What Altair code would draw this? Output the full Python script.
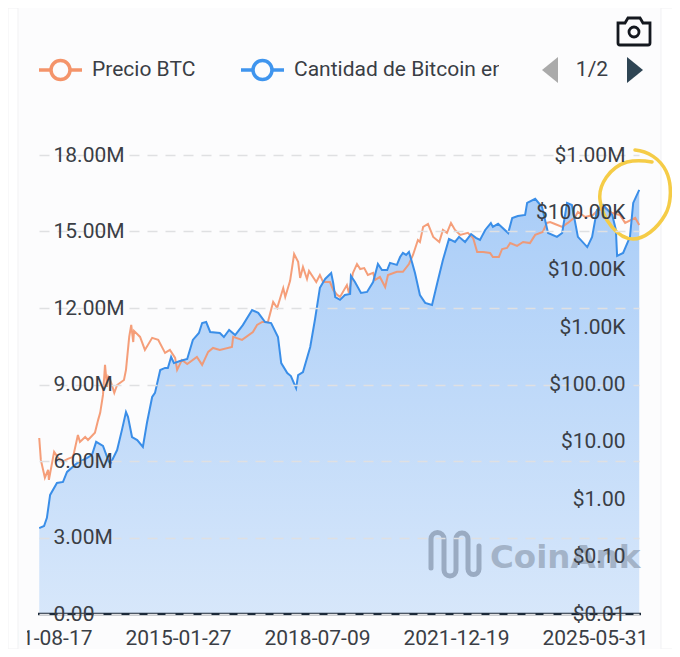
import altair as alt
import pandas as pd

# ---- data ----
price_years = [2011.63,2011.67,2011.77,2011.85,2011.87,2012.00,2012.10,2012.20,2012.34,2012.47,2012.59,2012.64,2012.77,2012.84,2013.01,2013.09,2013.14,2013.21,2013.26,2013.31,2013.34,2013.39,2013.49,2013.56,2013.73,2013.78,2013.86,2013.91,2013.96,2013.98,2014.13,2014.25,2014.43,2014.58,2014.75,2014.87,2015.00,2015.05,2015.17,2015.30,2015.54,2015.67,2015.82,2015.94,2016.11,2016.41,2016.44,2016.66,2016.93,2017.03,2017.16,2017.30,2017.43,2017.53,2017.68,2017.73,2017.85,2017.95,2018.05,2018.10,2018.17,2018.27,2018.32,2018.50,2018.59,2018.67,2018.84,2018.92,2019.02,2019.09,2019.26,2019.31,2019.41,2019.51,2019.59,2019.69,2019.78,2019.91,2019.96,2020.08,2020.21,2020.28,2020.50,2020.65,2020.80,2020.90,2021.02,2021.07,2021.15,2021.27,2021.40,2021.55,2021.64,2021.74,2021.84,2021.94,2022.07,2022.26,2022.39,2022.49,2022.64,2022.81,2022.88,2023.03,2023.11,2023.23,2023.31,2023.48,2023.63,2023.80,2023.93,2024.12,2024.22,2024.30,2024.42,2024.60,2024.74,2024.92,2024.99,2025.17,2025.36,2025.49,2025.66,2025.84,2026.03,2026.16,2026.41,2026.51]
price_usd = [11.7,4.85,2.37,3.25,2.18,6.7,5.27,4.49,5.07,5.48,13.2,10,12.2,10.8,14.4,24.2,32,65.9,220,90.8,136,120,71.4,98,120,180,675,1090,550,860,675,400,650,600,355,400,290,180,268,228,303,220,370,434,400,450,675,600,820,1090,1230,1230,2750,2160,4800,3360,6400,18800,13700,7200,11200,6900,9500,6100,8100,6100,6100,4450,3640,3360,5400,3950,8800,12600,10300,10700,8100,8800,6650,7500,5000,8100,9200,9200,12600,18100,33000,30500,55800,62800,37300,30500,49500,44000,65500,49500,40500,44000,35800,20400,20400,19600,16700,16700,23000,24000,29200,26000,30500,29200,40500,45600,65500,68000,62800,55800,65500,83000,102000,83000,90000,110000,119000,97600,90000,65500,80000,60000]

btc_years = [2011.63,2011.75,2011.82,2011.90,2012.07,2012.22,2012.32,2012.57,2012.82,2012.94,2013.04,2013.21,2013.34,2013.39,2013.56,2013.68,2013.78,2013.83,2013.93,2014.06,2014.20,2014.30,2014.43,2014.50,2014.63,2014.75,2014.82,2014.90,2014.97,2015.12,2015.30,2015.44,2015.59,2015.67,2015.77,2015.87,2016.11,2016.21,2016.34,2016.49,2016.68,2016.91,2017.06,2017.23,2017.38,2017.55,2017.63,2017.78,2017.87,2018.00,2018.05,2018.17,2018.35,2018.47,2018.59,2018.72,2018.87,2018.92,2018.97,2019.09,2019.21,2019.34,2019.36,2019.46,2019.61,2019.76,2019.91,2020.03,2020.13,2020.26,2020.33,2020.50,2020.58,2020.65,2020.73,2020.80,2020.88,2020.95,2021.07,2021.20,2021.37,2021.50,2021.64,2021.79,2021.94,2022.04,2022.19,2022.34,2022.46,2022.56,2022.69,2022.83,2022.88,2023.01,2023.26,2023.36,2023.50,2023.68,2023.73,2023.93,2024.10,2024.25,2024.47,2024.60,2024.72,2024.84,2024.99,2025.22,2025.34,2025.46,2025.61,2025.84,2025.93,2025.96,2026.11,2026.28,2026.36,2026.51]
btc_millions = [3.37,3.45,3.77,4.67,5.14,5.18,5.57,5.92,6.12,6.24,6.75,6.59,6.04,5.88,6.43,7.22,7.92,7.73,6.94,6.82,6.55,7.49,8.51,8.67,9.57,9.65,9.65,10.08,9.84,9.92,10.0,10.75,11.02,11.41,11.45,11.06,11.02,10.86,11.14,10.94,11.33,11.92,11.81,11.45,11.41,10.86,9.84,9.45,9.33,8.86,9.37,9.49,10.47,11.57,12.79,13.14,13.37,12.98,12.43,12.32,12.51,12.55,13.26,13.02,12.59,12.63,13.02,13.73,13.49,13.49,13.77,13.69,14.0,14.16,14.08,14.2,13.77,13.37,12.51,12.2,12.12,12.98,13.88,14.71,14.59,14.79,14.59,14.9,14.75,14.67,15.06,15.33,15.18,15.3,14.94,15.53,15.61,15.65,16.12,16.28,15.96,14.94,14.79,14.94,16.12,16.04,14.79,14.39,14.79,15.84,16.04,15.65,15.06,14.04,14.16,14.79,16.12,16.63]

left_ticks = [0, 3, 6, 9, 12, 15, 18]
right_ticks = [0.01, 0.1, 1, 10, 100, 1000, 10000, 100000, 1000000]
date_ticks = [(2011, 8, 17), (2015, 1, 27), (2018, 7, 9), (2021, 12, 19), (2025, 5, 31)]

BG = "#fcfcfd"
INK = "#3a3e45"
ORANGE = "#f4946a"
BLUE = "#3a8ee8"
FONT = "Roboto"
FS = 21


def to_date(y):
    year = int(y)
    return pd.Timestamp(year=year, month=1, day=1) + pd.Timedelta(days=(y - year) * 365.25)


price_df = pd.DataFrame({"date": [to_date(y) for y in price_years], "price": price_usd})
btc_df = pd.DataFrame({"date": [to_date(y) for y in btc_years], "btc": btc_millions})
one = pd.DataFrame({"a": [0]})

x_enc = alt.X(
    "date:T",
    title=None,
    scale=alt.Scale(domain=[
        alt.DateTime(year=2011, month=8, date=17),
        alt.DateTime(year=2026, month=7, date=4),
    ]),
    axis=alt.Axis(
        values=[alt.DateTime(year=y, month=m, date=d) for y, m, d in date_ticks],
        format="%Y-%m-%d", domain=False, ticks=False, tickSize=0, grid=False,
        labelFont=FONT, labelFontSize=FS, labelColor=INK, labelBaseline="middle",
        labelPadding=24, labelOverlap=False, labelFlush=False, labelBound=False,
        zindex=0,
    ),
)

y_left = alt.Y(
    "btc:Q", title=None,
    scale=alt.Scale(domain=[0, 18], nice=False),
    axis=alt.Axis(
        orient="left", values=left_ticks, domain=False, ticks=False, tickSize=0,
        grid=True, gridColor="#dfe0e2", gridDash=[10, 8], gridWidth=1.5,
        labelFont=FONT, labelFontSize=FS, labelColor=INK, labelAlign="left",
        labelPadding=-14, labelBound=False, labelFlush=False, labelOverlap=False,
        labelExpr="datum.value == 0 ? '0.00' : format(datum.value, '.2f') + 'M'",
        zindex=1,
    ),
)

y_top_line = alt.Y("btc:Q", title=None, scale=alt.Scale(domain=[0, 18], nice=False), axis=None)

y_right = alt.Y(
    "price:Q", title=None,
    scale=alt.Scale(type="log", domain=[0.01, 1000000], nice=False),
    axis=alt.Axis(
        orient="right", values=right_ticks, domain=False, ticks=False, tickSize=0,
        grid=False,
        labelFont=FONT, labelFontSize=FS, labelColor=INK, labelAlign="right",
        labelPadding=-14, labelBound=False, labelFlush=False, labelOverlap=False,
        labelExpr="datum.value >= 1000000 ? '$' + format(datum.value / 1000000, '.2f') + 'M' : "
                  "datum.value >= 1000 ? '$' + format(datum.value / 1000, '.2f') + 'K' : "
                  "'$' + format(datum.value, '.2f')",
        zindex=1,
    ),
)

area = alt.Chart(btc_df).mark_area(
    color=alt.Gradient(
        gradient="linear", x1=0, x2=0, y1=0, y2=1,
        stops=[
            alt.GradientStop(color="rgba(55,140,240,0.42)", offset=0),
            alt.GradientStop(color="rgba(55,140,240,0.19)", offset=1),
        ],
    ),
).encode(x=x_enc, y=y_left)
orange = alt.Chart(price_df).mark_line(color=ORANGE, strokeWidth=2, opacity=0.9).encode(x=x_enc, y=y_right)
blue = alt.Chart(btc_df).mark_line(color=BLUE, strokeWidth=2).encode(x=x_enc, y=y_top_line)


def val(**kw):
    return {k: alt.value(v) for k, v in kw.items()}


def rect(color, x, x2, y, y2, **mk):
    return alt.Chart(one).mark_rect(color=color, **mk).encode(**val(x=x, x2=x2, y=y, y2=y2))


def text(s, x, y, **mk):
    opts = dict(font=FONT, fontSize=FS, color=INK, align="left", baseline="middle")
    opts.update(mk)
    return alt.Chart(one).mark_text(text=s, **opts).encode(**val(x=x, y=y))


def shape(path, x, y, **mk):
    return alt.Chart(one).mark_point(shape=path, size=4, opacity=1, **mk).encode(**val(x=x, y=y))


def legend_icon(color, x0, x1, cx):
    return [
        alt.Chart(one).mark_rule(color=color, strokeWidth=3.5).encode(**val(x=x0, x2=x1, y=-85)),
        alt.Chart(one).mark_point(shape="circle", size=361, filled=True, fill=BG, stroke=color,
                                  strokeWidth=3.5, opacity=1).encode(**val(x=cx, y=-85)),
    ]


LOGO = ("M-24,14 L-24,-15 A6.5,6.5 0 0 1 -11,-15 L-11,16 A6,6 0 0 0 1,16 L1,-15 "
        "A6,6 0 0 1 13,-15 L13,15 A5.5,5.5 0 0 0 24,15 L24,-8")
SCRIBBLE = ("M-5,-45 C8,-44 20,-36 26,-24 C32,-12 32,8 25,20 C17,34 4,44 -7,44 "
            "C-22,44 -38,24 -40,5 C-42,-10 -30,-28 -13,-33 C-4,-35 6,-34 12,-33")
CAMERA = ("M-16,-8 L-9,-8 L-6,-13 L6,-13 L9,-8 L16,-8 L16,12 Q16,14 14,14 "
          "L-14,14 Q-16,14 -16,12 Z")

decor = [
    # watermark
    shape(LOGO, 416, 399, filled=False, color="#9aabc2", strokeWidth=5, strokeCap="round"),
    text("CoinAnk", 451, 413, font="DejaVu Sans", fontWeight="bold", fontSize=32.5,
         color="#a3b3c8", baseline="alphabetic"),
    # x baseline
    alt.Chart(one).mark_rule(color="#1c2a3a", strokeWidth=2.5).encode(**val(x=-1, x2=602, y=459)),
    # card edges and clipped first date
    rect("#ffffff", -31, -21, -147, 494, stroke="#f1f1f3"),
    rect("#ffffff", 622, 641, -147, 494, stroke="#f1f1f3"),
    rect(BG, -20, -12, 462, 494),
    # legend
    *legend_icon(ORANGE, 0, 43, 21.5),
    text("Precio BTC", 53, -85),
    *legend_icon("#3f95ee", 202, 245, 223.5),
    text("Cantidad de Bitcoin en", 255, -85),
    rect(BG, 460, 495, -100, -70),
    shape("M8,-13 L-8,0 L8,13 Z", 511, -85, filled=True, color="#aaaaaa"),
    text("1/2", 553, -85, align="center"),
    shape("M-8,-13 L8,0 L-8,13 Z", 596, -85, filled=True, color="#2f4554"),
    # camera
    shape(CAMERA, 595, -124, filled=False, color="#14181f", strokeWidth=2.8),
    alt.Chart(one).mark_point(shape="circle", size=100, filled=False, color="#14181f",
                              strokeWidth=2.8, opacity=1).encode(**val(x=595, y=-123)),
    # yellow hand-drawn circle
    shape(SCRIBBLE, 601, 40, filled=False, color="#f5cc47", strokeWidth=3.5, strokeCap="round"),
]

chart = (
    alt.layer(area, orange, blue, *decor)
    .resolve_scale(y="independent")
    .properties(
        width=600, height=459, background=BG,
        padding={"left": 31, "top": 147, "right": 33, "bottom": 35},
        autosize=alt.AutoSizeParams(type="none"),
    )
    .configure_view(stroke=None)
)

chart.save("out.html", embed_options={"renderer": "svg", "actions": False})
